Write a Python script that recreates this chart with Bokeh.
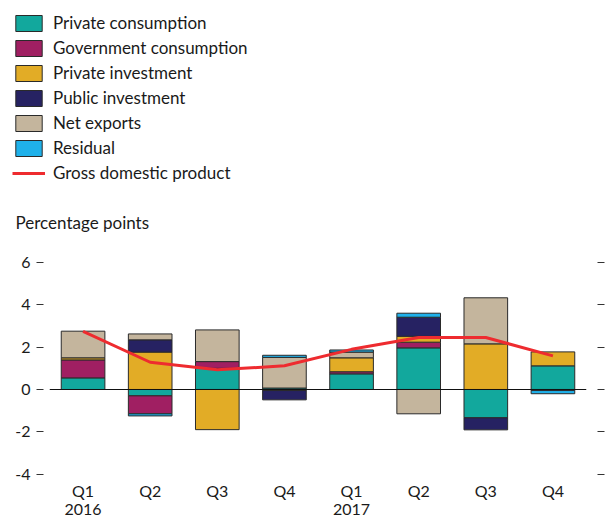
import numpy as np
from bokeh.plotting import figure
from bokeh.layouts import column
from bokeh.models import Range1d, FixedTicker, LinearAxis, Span, Legend, LegendItem, Label
from bokeh.core.properties import value
from bokeh.embed import file_html
from bokeh.resources import INLINE

# ---------------- data ----------------
quarters = ["Q1\n2016", "Q2", "Q3", "Q4", "Q1\n2017", "Q2", "Q3", "Q4"]
private_consumption = [0.55, -0.30, 1.00, 0.07, 0.74, 1.97, -1.34, 1.12]
government_consumption = [0.85, -0.85, 0.32, -0.05, 0.10, 0.27, 0.0, 0.0]
private_investment = [0.10, 1.77, -1.90, 0.0, 0.66, 0.28, 2.16, 0.66]
public_investment = [0.0, 0.58, 0.0, -0.44, 0.0, 0.90, -0.57, 0.0]
net_exports = [1.26, 0.28, 1.50, 1.45, 0.27, -1.15, 2.18, -0.05]
residual = [0.0, -0.10, 0.0, 0.10, 0.10, 0.19, 0.0, -0.15]
gdp = [2.75, 1.29, 0.93, 1.12, 1.90, 2.46, 2.46, 1.59]
y_ticks = [-4, -2, 0, 2, 4, 6]
y_tick_labels = {-4: "-4", -2: "-2", 0: "0", 2: "2", 4: "4", 6: "6"}

series_names = ["Private consumption", "Government consumption", "Private investment",
                "Public investment", "Net exports", "Residual"]
series_values = [private_consumption, government_consumption, private_investment,
                 public_investment, net_exports, residual]
series_colors = ["#12a89d", "#a01f62", "#e2ac26", "#262262", "#c4b59d", "#1fb1ea"]
gdp_name = "Gross domestic product"
gdp_color = "#ee2b2f"
unit_label = "Percentage points"

FONT = "Lato"
TXT = "#1a1a1a"
OUTLINE = "#2a2a2a"

W = 610
H_TOP, H_CHART = 232, 286
LEG_LEFT, LEG_TOP = 12, 12


def no_frame_align(fig):
    try:
        fig.frame_align = False
    except Exception:
        pass


# ---------------- legend / header figure ----------------
leg = figure(width=W, height=H_TOP, output_backend="svg", toolbar_location=None,
             x_axis_type=None, y_axis_type=None,
             x_range=Range1d(LEG_LEFT, W), y_range=Range1d(0, H_TOP - LEG_TOP),
             min_border_left=LEG_LEFT, min_border_right=0, min_border_top=LEG_TOP,
             min_border_bottom=0)
leg.grid.visible = False
leg.outline_line_color = None
no_frame_align(leg)

items = []
for name, color in zip(series_names, series_colors):
    # legend-only renderer placed far outside the visible ranges
    r = leg.vbar(x=[-1000], bottom=[-1000], top=[-999], width=1,
                 fill_color=color, line_color=OUTLINE, line_width=1)
    items.append(LegendItem(label=name, renderers=[r]))
rl = leg.line(x=[-1000, -990], y=[-1000, -1000], line_color=gdp_color, line_width=3)
items.append(LegendItem(label=gdp_name, renderers=[rl]))

legend = Legend(items=items, location="top_left", margin=0, padding=0,
                glyph_width=33, glyph_height=20, label_height=21, spacing=4,
                label_standoff=8, label_text_font=FONT, label_text_font_size="17px",
                label_text_color=TXT, border_line_color=None, background_fill_alpha=0)
leg.add_layout(legend, "center")
leg.add_layout(Label(x=15, y=10, text=unit_label, text_font=FONT, text_font_size="17px",
                     text_color=TXT, text_baseline="middle"))

# ---------------- chart figure ----------------
idx = np.arange(len(quarters))
p = figure(width=W, height=H_CHART, output_backend="svg", toolbar_location=None,
           x_axis_type=None,
           x_range=Range1d(-0.5, len(quarters) - 0.5), y_range=Range1d(-6.105, 6.578),
           min_border_left=49, min_border_right=24, min_border_top=18, min_border_bottom=0)
p.grid.visible = False
p.outline_line_color = None
no_frame_align(p)

pos_base = np.zeros(len(quarters))
neg_base = np.zeros(len(quarters))
for vals, color in zip(series_values, series_colors):
    v = np.array(vals, dtype=float)
    bottom = np.where(v >= 0, pos_base, neg_base + v)
    top = np.where(v >= 0, pos_base + v, neg_base)
    m = v != 0
    p.vbar(x=idx[m], bottom=bottom[m], top=top[m], width=0.65,
           fill_color=color, line_color=OUTLINE, line_width=1)
    pos_base += np.clip(v, 0, None)
    neg_base += np.clip(v, None, 0)

p.add_layout(Span(location=0, dimension="width", line_color="#111111", line_width=1.2))
p.line(x=idx, y=gdp, line_color=gdp_color, line_width=3, line_join="round")

# category labels under the bars
p.text(x=idx, y=-4.31, text=quarters, text_align="center", text_baseline="top",
       text_font=value(FONT), text_font_size="16px", text_color=TXT, text_line_height=0.95)

# y axis (left)
ya = p.yaxis[0]
ya.ticker = FixedTicker(ticks=y_ticks)
ya.major_label_overrides = y_tick_labels
ya.axis_line_color = None
ya.major_tick_in = -6
ya.major_tick_out = 13
ya.minor_tick_line_color = None
ya.major_tick_line_color = "#333333"
ya.major_label_standoff = 6
ya.major_label_text_font = FONT
ya.major_label_text_font_size = "16px"
ya.major_label_text_color = TXT

# right axis with ticks only
ra = LinearAxis(ticker=FixedTicker(ticks=y_ticks), axis_line_color=None,
                major_tick_in=-11, major_tick_out=18, minor_tick_line_color=None,
                major_tick_line_color="#333333", major_label_standoff=0,
                major_label_overrides={t: "" for t in y_ticks})
p.add_layout(ra, "right")

layout = column(leg, p, spacing=0)
open("out.html", "w").write(file_html(layout, INLINE))
